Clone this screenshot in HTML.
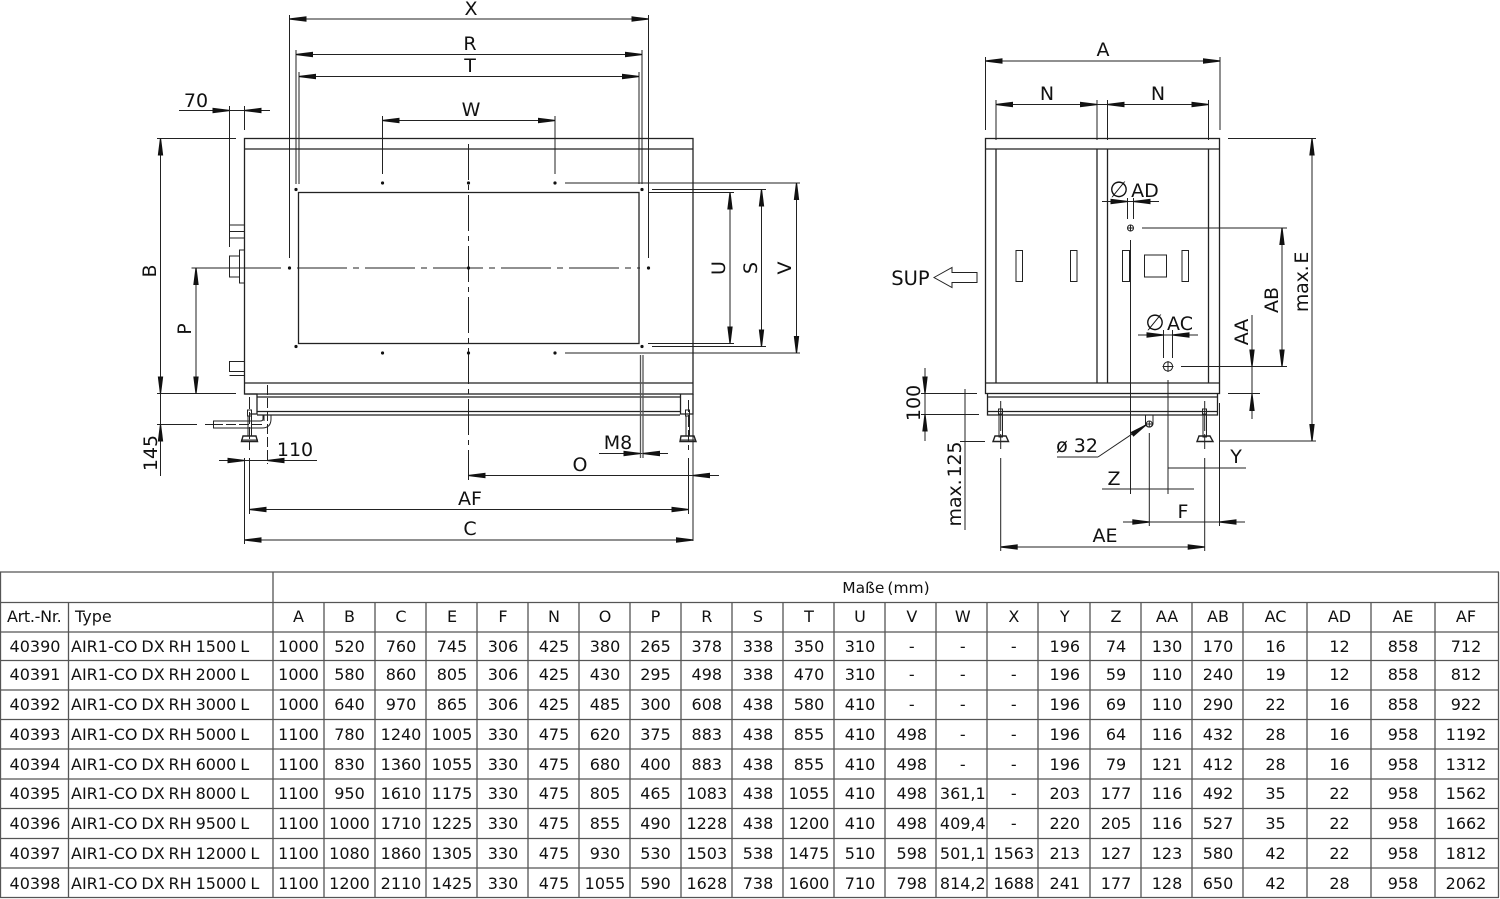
<!DOCTYPE html>
<html><head><meta charset="utf-8"><style>
html,body{margin:0;padding:0;background:#fff}
svg{display:block}
text{font-family:"DejaVu Sans",sans-serif;fill:#111}
.l{font-size:19px}
.t{font-size:16px;text-anchor:middle}
.d line,.d path.s,.d rect,.d circle{stroke:#222;stroke-width:1;fill:none}
.b line,.b rect,.b path{stroke:#222;stroke-width:1.3;fill:none}
.g line{stroke:#555;stroke-width:1.3}
</style></head><body>
<svg xmlns="http://www.w3.org/2000/svg" width="1500" height="899" viewBox="0 0 1500 899">
<defs><path id="a" d="M0 -.6L17 -2.7V2.7L0 .6Z" fill="#111"/></defs>

<!-- LEFT VIEW body -->
<g class="b">
<rect x="244.5" y="138.5" width="448.5" height="255.5"/>
<line x1="244.5" y1="149" x2="693" y2="149"/>
<line x1="244.5" y1="383" x2="693" y2="383"/>
<rect x="298.5" y="192.5" width="340.5" height="151"/>
<path d="M244.5 394H257V414H249"/>
<path d="M680.5 394V414H693V394"/>
<line x1="257" y1="397" x2="680" y2="397"/>
<line x1="257" y1="411.5" x2="680" y2="411.5"/>
<line x1="257" y1="415" x2="680" y2="415"/>
</g>
<g class="d">
<!-- left connections -->
<rect x="229.5" y="225" width="15" height="6.5"/><rect x="229.5" y="231.5" width="15" height="6.5"/>
<rect x="229.5" y="256" width="10" height="21"/><rect x="239.5" y="250" width="5" height="33"/>
<rect x="229.5" y="361.5" width="15" height="10"/><line x1="229.5" y1="375.5" x2="244" y2="375.5"/>
<path class="s" d="M263 415.5V419Q263 421 260 421H213.5V428H262Q271 428 271 419V415.5"/>
<line x1="264" y1="415" x2="264" y2="421"/>
<rect x="247.5" y="410" width="4" height="6"/><rect x="248" y="416" width="3.5" height="20"/>
<path class="s" d="M243 436H256L257.5 441.5H241.5Z" style="stroke-width:1.4"/><line x1="241" y1="440" x2="258" y2="440"/>
<line x1="249.5" y1="397" x2="249.5" y2="450" stroke-dasharray="12 3"/>
<rect x="685.5" y="410" width="4" height="6"/><rect x="686" y="416" width="3.5" height="20"/>
<path class="s" d="M681 436H694L696 441.5H680Z" style="stroke-width:1.4"/><line x1="680" y1="440" x2="696" y2="440"/>
<line x1="688.5" y1="400" x2="688.5" y2="450" stroke-dasharray="12 3"/>
<line x1="693" y1="402" x2="693" y2="541"/>
<line x1="244.5" y1="458" x2="244.5" y2="544"/>
<line x1="249.5" y1="458" x2="249.5" y2="514"/>
<line x1="688.5" y1="458" x2="688.5" y2="514"/>
<line x1="267.5" y1="385" x2="267.5" y2="464" stroke-dasharray="10 3"/>

<!-- X R T W -->
<line x1="289.5" y1="15" x2="289.5" y2="258"/><line x1="648.5" y1="15" x2="648.5" y2="258"/>
<line x1="289.5" y1="19" x2="648.5" y2="19"/>
<line x1="296" y1="50" x2="296" y2="184"/><line x1="642" y1="50" x2="642" y2="184"/>
<line x1="296" y1="54.5" x2="642" y2="54.5"/>
<line x1="299" y1="72" x2="299" y2="184"/><line x1="639" y1="72" x2="639" y2="184"/>
<line x1="299" y1="76.5" x2="639" y2="76.5"/>
<line x1="382.5" y1="116" x2="382.5" y2="174"/><line x1="555" y1="116" x2="555" y2="174"/>
<line x1="382.5" y1="120.5" x2="555" y2="120.5"/>

<!-- 70 -->
<line x1="179" y1="110.5" x2="270" y2="110.5"/>
<line x1="229.5" y1="106" x2="229.5" y2="247"/><line x1="244.5" y1="106" x2="244.5" y2="130"/>
<!-- B P 145 -->
<line x1="157" y1="138.5" x2="236" y2="138.5"/><line x1="157" y1="393.5" x2="236" y2="393.5"/>
<line x1="160.5" y1="138.5" x2="160.5" y2="476"/>
<line x1="196" y1="268" x2="196" y2="394"/>
<line x1="191.5" y1="268" x2="281" y2="268"/>
<line x1="157" y1="424.5" x2="197" y2="424.5"/><line x1="205" y1="424.5" x2="213" y2="424.5"/>
<line x1="213" y1="424.5" x2="262" y2="424.5" stroke-dasharray="10 3"/>
<!-- centre lines -->
<line x1="297" y1="268" x2="640" y2="268" stroke-dasharray="50 6 6 6"/>
<line x1="468.5" y1="144" x2="468.5" y2="480" stroke-dasharray="36 5 5 5"/>
<!-- 110 AF C O M8 -->
<line x1="219" y1="460.5" x2="317" y2="460.5"/>
<line x1="249.5" y1="509.5" x2="688.5" y2="509.5"/>
<line x1="244.5" y1="540" x2="693" y2="540"/>
<line x1="468.5" y1="475.5" x2="719" y2="475.5"/>
<line x1="599" y1="453.5" x2="668" y2="453.5"/>
<!-- U S V -->
<line x1="648" y1="192.5" x2="734" y2="192.5"/><line x1="648" y1="343.5" x2="734" y2="343.5"/>
<line x1="652" y1="189.5" x2="766" y2="189.5"/><line x1="652" y1="346.5" x2="766" y2="346.5"/>
<line x1="565" y1="183" x2="800" y2="183"/><line x1="565" y1="353" x2="800" y2="353"/>
<line x1="730" y1="192.5" x2="730" y2="343.5"/>
<line x1="761.5" y1="189.5" x2="761.5" y2="346.5"/>
<line x1="796.5" y1="183" x2="796.5" y2="353"/>
</g>
<g class="g"><line x1="640.5" y1="355" x2="640.5" y2="458"/><line x1="643" y1="355" x2="643" y2="458"/></g>
<!-- left view dots -->
<g fill="#111">
<circle cx="296" cy="189.5" r="1.6"/><circle cx="382.5" cy="183" r="1.6"/><circle cx="468.5" cy="183" r="1.6"/><circle cx="555" cy="183" r="1.6"/><circle cx="642" cy="189.5" r="1.6"/>
<circle cx="289.5" cy="268" r="1.6"/><circle cx="468.5" cy="268" r="1.6"/><circle cx="648.5" cy="268" r="1.6"/>
<circle cx="296" cy="346.5" r="1.6"/><circle cx="382.5" cy="353" r="1.6"/><circle cx="468.5" cy="353" r="1.6"/><circle cx="555" cy="353" r="1.6"/><circle cx="642" cy="346.5" r="1.6"/>
</g>
<!-- left arrows -->
<use href="#a" transform="translate(289.5 19)"/><use href="#a" transform="translate(648.5 19) rotate(180)"/>
<use href="#a" transform="translate(296 54.5)"/><use href="#a" transform="translate(642 54.5) rotate(180)"/>
<use href="#a" transform="translate(299 76.5)"/><use href="#a" transform="translate(639 76.5) rotate(180)"/>
<use href="#a" transform="translate(382.5 120.5)"/><use href="#a" transform="translate(555 120.5) rotate(180)"/>
<use href="#a" transform="translate(229.5 110.5) rotate(180)"/><use href="#a" transform="translate(244.5 110.5)"/>
<use href="#a" transform="translate(160.5 138.5) rotate(90)"/><use href="#a" transform="translate(160.5 393.5) rotate(-90)"/>
<use href="#a" transform="translate(196 268) rotate(90)"/><use href="#a" transform="translate(196 393.5) rotate(-90)"/>
<use href="#a" transform="translate(160.5 424.5) rotate(90)"/>
<use href="#a" transform="translate(244.5 460.5) rotate(180)"/><use href="#a" transform="translate(267.5 460.5)"/>
<use href="#a" transform="translate(249.5 509.5)"/><use href="#a" transform="translate(688.5 509.5) rotate(180)"/>
<use href="#a" transform="translate(244.5 540)"/><use href="#a" transform="translate(693 540) rotate(180)"/>
<use href="#a" transform="translate(468.5 475.5)"/><use href="#a" transform="translate(693 475.5)"/>
<use href="#a" transform="translate(640.5 453.5) rotate(180)"/><use href="#a" transform="translate(643 453.5)"/>
<use href="#a" transform="translate(730 192.5) rotate(90)"/><use href="#a" transform="translate(730 343.5) rotate(-90)"/>
<use href="#a" transform="translate(761.5 189.5) rotate(90)"/><use href="#a" transform="translate(761.5 346.5) rotate(-90)"/>
<use href="#a" transform="translate(796.5 183) rotate(90)"/><use href="#a" transform="translate(796.5 353) rotate(-90)"/>

<!-- left labels -->
<g class="l" text-anchor="middle">
<text x="471" y="15">X</text><text x="470" y="50">R</text><text x="470" y="72">T</text><text x="471" y="116">W</text>
<text x="196" y="107">70</text><text x="295" y="456">110</text><text x="618" y="449">M8</text><text x="580" y="471">O</text><text x="470" y="505">AF</text><text x="470" y="535">C</text>
<text transform="translate(156 271) rotate(-90)">B</text>
<text transform="translate(191 329) rotate(-90)">P</text>
<text transform="translate(157 453) rotate(-90)">145</text>
<text transform="translate(725 268) rotate(-90)">U</text>
<text transform="translate(757 268) rotate(-90)">S</text>
<text transform="translate(791 268) rotate(-90)">V</text>
</g>

<!-- RIGHT VIEW -->
<g class="b">
<rect x="985.5" y="138.5" width="234" height="255"/>
<line x1="985.5" y1="149" x2="1219.5" y2="149"/>
<line x1="985.5" y1="383" x2="1219.5" y2="383"/>
<line x1="996" y1="149" x2="996" y2="383"/><line x1="1097" y1="149" x2="1097" y2="383"/>
<line x1="1107.5" y1="149" x2="1107.5" y2="383"/><line x1="1208.5" y1="149" x2="1208.5" y2="383"/>
<path d="M987.5 394V415H1217.5V394"/>
<line x1="987.5" y1="397" x2="1217.5" y2="397"/>
<line x1="987.5" y1="411.5" x2="1217.5" y2="411.5"/>
</g>
<g class="d">
<rect x="1016" y="250.5" width="6.5" height="31"/><rect x="1070.5" y="250.5" width="6.5" height="31"/>
<rect x="1122.5" y="250.5" width="7" height="31"/><rect x="1182" y="250.5" width="6.5" height="31"/>
<rect x="1144.5" y="255" width="22" height="22"/>
<path class="s" d="M934 277.5L952 267.5V272.5H977V282.5H952V287.5Z"/>
<!-- ext / dims top -->
<line x1="985.5" y1="57" x2="985.5" y2="130"/><line x1="1220" y1="57" x2="1220" y2="130"/>
<line x1="985.5" y1="61" x2="1220" y2="61"/>
<line x1="996" y1="100" x2="996" y2="140"/><line x1="1097" y1="100" x2="1097" y2="140"/><line x1="1107.5" y1="100" x2="1107.5" y2="140"/><line x1="1208.5" y1="100" x2="1208.5" y2="140"/>
<line x1="996" y1="104.5" x2="1208.5" y2="104.5"/>
<!-- AD -->
<line x1="1102" y1="201.5" x2="1159" y2="201.5"/>
<line x1="1127.5" y1="198" x2="1127.5" y2="219"/><line x1="1133.5" y1="198" x2="1133.5" y2="219"/>
<circle cx="1130.5" cy="228" r="3"/><line x1="1127" y1="228" x2="1134" y2="228"/><line x1="1130.5" y1="224.5" x2="1130.5" y2="231.5"/>
<line x1="1142" y1="228" x2="1287" y2="228"/>
<line x1="1130.5" y1="240" x2="1130.5" y2="494"/>
<!-- AC -->
<line x1="1138" y1="335" x2="1198" y2="335"/>
<line x1="1163.5" y1="330" x2="1163.5" y2="358"/><line x1="1172.5" y1="330" x2="1172.5" y2="358"/>
<circle cx="1168" cy="366.5" r="4.6"/><line x1="1162.5" y1="366.5" x2="1173.5" y2="366.5"/><line x1="1168" y1="361" x2="1168" y2="372"/>
<line x1="1181" y1="366.5" x2="1287" y2="366.5"/>
<line x1="1168" y1="380" x2="1168" y2="494"/>
<!-- AB AA E -->
<line x1="1282" y1="228" x2="1282" y2="366.5"/>
<line x1="1252" y1="315" x2="1252" y2="419"/>
<line x1="1228" y1="393.5" x2="1260" y2="393.5"/>
<line x1="1228" y1="138.5" x2="1316" y2="138.5"/>
<line x1="1312" y1="138.5" x2="1312" y2="441"/>
<line x1="1220" y1="441" x2="1316" y2="441"/>
<!-- 100 max125 -->
<line x1="925" y1="368" x2="925" y2="441"/>
<line x1="921" y1="393.5" x2="977" y2="393.5"/><line x1="921" y1="414.5" x2="979" y2="414.5"/>
<line x1="965" y1="389" x2="965" y2="530"/>
<line x1="960" y1="441.5" x2="985" y2="441.5"/>
<!-- feet -->
<rect x="998.5" y="409" width="4" height="5"/><rect x="999" y="414" width="3.5" height="23"/>
<path class="s" d="M995 436H1006L1008.5 441.5H993Z" style="stroke-width:1.4"/>
<line x1="1000.7" y1="401" x2="1000.7" y2="449" stroke-dasharray="30 3"/>
<line x1="1000.7" y1="458" x2="1000.7" y2="551"/>
<rect x="1202.5" y="409" width="4" height="5"/><rect x="1203" y="414" width="3.5" height="23"/>
<path class="s" d="M1199 436H1210L1213 441.5H1197Z" style="stroke-width:1.4"/>
<line x1="1204.7" y1="401" x2="1204.7" y2="449" stroke-dasharray="30 3"/>
<line x1="1204.7" y1="458" x2="1204.7" y2="551"/>
<line x1="1219.5" y1="403" x2="1219.5" y2="526"/>
<!-- pipe -->
<path class="s" d="M1145.5 415V424A3.8 3.8 0 0 0 1153 424V415"/>
<circle cx="1149.3" cy="424" r="3"/><line x1="1146" y1="424" x2="1152.5" y2="424"/><line x1="1149.3" y1="421" x2="1149.3" y2="427"/>
<line x1="1149.3" y1="433" x2="1149.3" y2="526"/>
<line x1="1057" y1="457" x2="1098" y2="457"/><line x1="1098" y1="457" x2="1147" y2="424"/>
<!-- Z Y F AE -->
<line x1="1102" y1="489" x2="1194" y2="489"/>
<line x1="1168" y1="468" x2="1246" y2="468"/>
<line x1="1123" y1="522" x2="1245" y2="522"/>
<line x1="1000.7" y1="547" x2="1204.7" y2="547"/>
</g>
<!-- right arrows -->
<use href="#a" transform="translate(985.5 61)"/><use href="#a" transform="translate(1220 61) rotate(180)"/>
<use href="#a" transform="translate(996 104.5)"/><use href="#a" transform="translate(1097 104.5) rotate(180)"/>
<use href="#a" transform="translate(1107.5 104.5)"/><use href="#a" transform="translate(1208.5 104.5) rotate(180)"/>
<use href="#a" transform="translate(1127.5 201.5) rotate(180)"/><use href="#a" transform="translate(1133.5 201.5)"/>
<use href="#a" transform="translate(1163.5 335) rotate(180)"/><use href="#a" transform="translate(1172.5 335)"/>
<use href="#a" transform="translate(1282 228) rotate(90)"/><use href="#a" transform="translate(1282 366.5) rotate(-90)"/>
<use href="#a" transform="translate(1252 366.5) rotate(-90)"/><use href="#a" transform="translate(1252 394) rotate(90)"/>
<use href="#a" transform="translate(1312 138.5) rotate(90)"/><use href="#a" transform="translate(1312 441) rotate(-90)"/>
<use href="#a" transform="translate(925 393.5) rotate(-90)"/><use href="#a" transform="translate(925 414.5) rotate(90)"/>
<use href="#a" transform="translate(1149.3 522) rotate(180)"/><use href="#a" transform="translate(1219.5 522)"/>
<use href="#a" transform="translate(1000.7 547)"/><use href="#a" transform="translate(1204.7 547) rotate(180)"/>
<use href="#a" transform="translate(1146 425) rotate(146)"/>
<!-- right labels -->
<g class="l" text-anchor="middle">
<text x="1103" y="56">A</text><text x="1047" y="100">N</text><text x="1158" y="100">N</text>
<text x="910.5" y="285" style="font-size:19.5px">SUP</text>
<text x="1119" y="197" style="font-size:22px">∅</text><text x="1145" y="197">AD</text>
<text x="1155" y="330" style="font-size:22px">∅</text><text x="1180" y="330">AC</text>
<text x="1077" y="452">ø 32</text>
<text x="1114" y="485">Z</text><text x="1236" y="463">Y</text><text x="1183" y="518">F</text><text x="1105" y="542">AE</text>
<text transform="translate(1278 300) rotate(-90)">AB</text>
<text transform="translate(1248 332) rotate(-90)">AA</text>
<text transform="translate(1308 282) rotate(-90)" style="word-spacing:-4px;letter-spacing:-.2px">max. E</text>
<text transform="translate(920 403) rotate(-90)">100</text>
<text transform="translate(961 484) rotate(-90)" style="word-spacing:-4px;letter-spacing:-.1px">max. 125</text>
</g>

<!-- TABLE -->
<g class="g">
<line x1="0" y1="572" x2="1499" y2="572"/><line x1="0" y1="602.5" x2="1499" y2="602.5"/><line x1="0" y1="632" x2="1499" y2="632"/>
<line x1="0" y1="660.5" x2="1499" y2="660.5"/><line x1="0" y1="690" x2="1499" y2="690"/><line x1="0" y1="719.5" x2="1499" y2="719.5"/>
<line x1="0" y1="749" x2="1499" y2="749"/><line x1="0" y1="779" x2="1499" y2="779"/><line x1="0" y1="808.5" x2="1499" y2="808.5"/>
<line x1="0" y1="838.5" x2="1499" y2="838.5"/><line x1="0" y1="868" x2="1499" y2="868"/><line x1="0" y1="897.5" x2="1499" y2="897.5"/>
<line x1="0.5" y1="572" x2="0.5" y2="897.5"/><line x1="273" y1="572" x2="273" y2="897.5"/><line x1="1498.5" y1="572" x2="1498.5" y2="897.5"/>
<line x1="68.5" y1="602.5" x2="68.5" y2="897.5"/>
<line x1="324" y1="602.5" x2="324" y2="897.5"/><line x1="375" y1="602.5" x2="375" y2="897.5"/><line x1="426" y1="602.5" x2="426" y2="897.5"/><line x1="477" y1="602.5" x2="477" y2="897.5"/>
<line x1="528" y1="602.5" x2="528" y2="897.5"/><line x1="579" y1="602.5" x2="579" y2="897.5"/><line x1="630" y1="602.5" x2="630" y2="897.5"/><line x1="681" y1="602.5" x2="681" y2="897.5"/>
<line x1="732" y1="602.5" x2="732" y2="897.5"/><line x1="783" y1="602.5" x2="783" y2="897.5"/><line x1="834" y1="602.5" x2="834" y2="897.5"/><line x1="885" y1="602.5" x2="885" y2="897.5"/>
<line x1="936" y1="602.5" x2="936" y2="897.5"/><line x1="987" y1="602.5" x2="987" y2="897.5"/><line x1="1038" y1="602.5" x2="1038" y2="897.5"/><line x1="1090" y1="602.5" x2="1090" y2="897.5"/>
<line x1="1141" y1="602.5" x2="1141" y2="897.5"/><line x1="1192" y1="602.5" x2="1192" y2="897.5"/><line x1="1243" y1="602.5" x2="1243" y2="897.5"/><line x1="1307" y1="602.5" x2="1307" y2="897.5"/>
<line x1="1371" y1="602.5" x2="1371" y2="897.5"/><line x1="1435" y1="602.5" x2="1435" y2="897.5"/>
</g>
<text x="886" y="593" text-anchor="middle" style="font-size:15.5px;word-spacing:-2px">Maße (mm)</text>
<text x="7" y="622" style="font-size:16px;letter-spacing:-.3px">Art.-Nr.</text>
<text x="75" y="622" style="font-size:16px">Type</text>

<text class="t" y="622"><tspan x="298.5">A</tspan><tspan x="349.5">B</tspan><tspan x="401">C</tspan><tspan x="452">E</tspan><tspan x="503">F</tspan><tspan x="554">N</tspan><tspan x="605">O</tspan><tspan x="655.5">P</tspan><tspan x="706.8">R</tspan><tspan x="758">S</tspan><tspan x="809">T</tspan><tspan x="860">U</tspan><tspan x="911.8">V</tspan><tspan x="962.8">W</tspan><tspan x="1013.8">X</tspan><tspan x="1064.8">Y</tspan><tspan x="1116">Z</tspan><tspan x="1167">AA</tspan><tspan x="1218">AB</tspan><tspan x="1275.5">AC</tspan><tspan x="1339.5">AD</tspan><tspan x="1403">AE</tspan><tspan x="1466">AF</tspan></text>

<g style="font-size:16px;word-spacing:-1.2px">
<text x="71" y="652">AIR1-CO DX RH 1500 L</text>
<text x="71" y="680">AIR1-CO DX RH 2000 L</text>
<text x="71" y="710">AIR1-CO DX RH 3000 L</text>
<text x="71" y="740">AIR1-CO DX RH 5000 L</text>
<text x="71" y="770">AIR1-CO DX RH 6000 L</text>
<text x="71" y="799">AIR1-CO DX RH 8000 L</text>
<text x="71" y="829">AIR1-CO DX RH 9500 L</text>
<text x="71" y="859">AIR1-CO DX RH 12000 L</text>
<text x="71" y="889">AIR1-CO DX RH 15000 L</text>
</g>

<text class="t" y="652"><tspan x="35">40390</tspan><tspan x="298.5">1000</tspan><tspan x="349.5">520</tspan><tspan x="401">760</tspan><tspan x="452">745</tspan><tspan x="503">306</tspan><tspan x="554">425</tspan><tspan x="605">380</tspan><tspan x="655.5">265</tspan><tspan x="706.8">378</tspan><tspan x="758">338</tspan><tspan x="809">350</tspan><tspan x="860">310</tspan><tspan x="911.8">-</tspan><tspan x="962.8">-</tspan><tspan x="1013.8">-</tspan><tspan x="1064.8">196</tspan><tspan x="1116">74</tspan><tspan x="1167">130</tspan><tspan x="1218">170</tspan><tspan x="1275.5">16</tspan><tspan x="1339.5">12</tspan><tspan x="1403">858</tspan><tspan x="1466">712</tspan></text>
<text class="t" y="680"><tspan x="35">40391</tspan><tspan x="298.5">1000</tspan><tspan x="349.5">580</tspan><tspan x="401">860</tspan><tspan x="452">805</tspan><tspan x="503">306</tspan><tspan x="554">425</tspan><tspan x="605">430</tspan><tspan x="655.5">295</tspan><tspan x="706.8">498</tspan><tspan x="758">338</tspan><tspan x="809">470</tspan><tspan x="860">310</tspan><tspan x="911.8">-</tspan><tspan x="962.8">-</tspan><tspan x="1013.8">-</tspan><tspan x="1064.8">196</tspan><tspan x="1116">59</tspan><tspan x="1167">110</tspan><tspan x="1218">240</tspan><tspan x="1275.5">19</tspan><tspan x="1339.5">12</tspan><tspan x="1403">858</tspan><tspan x="1466">812</tspan></text>
<text class="t" y="710"><tspan x="35">40392</tspan><tspan x="298.5">1000</tspan><tspan x="349.5">640</tspan><tspan x="401">970</tspan><tspan x="452">865</tspan><tspan x="503">306</tspan><tspan x="554">425</tspan><tspan x="605">485</tspan><tspan x="655.5">300</tspan><tspan x="706.8">608</tspan><tspan x="758">438</tspan><tspan x="809">580</tspan><tspan x="860">410</tspan><tspan x="911.8">-</tspan><tspan x="962.8">-</tspan><tspan x="1013.8">-</tspan><tspan x="1064.8">196</tspan><tspan x="1116">69</tspan><tspan x="1167">110</tspan><tspan x="1218">290</tspan><tspan x="1275.5">22</tspan><tspan x="1339.5">16</tspan><tspan x="1403">858</tspan><tspan x="1466">922</tspan></text>
<text class="t" y="740"><tspan x="35">40393</tspan><tspan x="298.5">1100</tspan><tspan x="349.5">780</tspan><tspan x="401">1240</tspan><tspan x="452">1005</tspan><tspan x="503">330</tspan><tspan x="554">475</tspan><tspan x="605">620</tspan><tspan x="655.5">375</tspan><tspan x="706.8">883</tspan><tspan x="758">438</tspan><tspan x="809">855</tspan><tspan x="860">410</tspan><tspan x="911.8">498</tspan><tspan x="962.8">-</tspan><tspan x="1013.8">-</tspan><tspan x="1064.8">196</tspan><tspan x="1116">64</tspan><tspan x="1167">116</tspan><tspan x="1218">432</tspan><tspan x="1275.5">28</tspan><tspan x="1339.5">16</tspan><tspan x="1403">958</tspan><tspan x="1466">1192</tspan></text>
<text class="t" y="770"><tspan x="35">40394</tspan><tspan x="298.5">1100</tspan><tspan x="349.5">830</tspan><tspan x="401">1360</tspan><tspan x="452">1055</tspan><tspan x="503">330</tspan><tspan x="554">475</tspan><tspan x="605">680</tspan><tspan x="655.5">400</tspan><tspan x="706.8">883</tspan><tspan x="758">438</tspan><tspan x="809">855</tspan><tspan x="860">410</tspan><tspan x="911.8">498</tspan><tspan x="962.8">-</tspan><tspan x="1013.8">-</tspan><tspan x="1064.8">196</tspan><tspan x="1116">79</tspan><tspan x="1167">121</tspan><tspan x="1218">412</tspan><tspan x="1275.5">28</tspan><tspan x="1339.5">16</tspan><tspan x="1403">958</tspan><tspan x="1466">1312</tspan></text>
<text class="t" y="799"><tspan x="35">40395</tspan><tspan x="298.5">1100</tspan><tspan x="349.5">950</tspan><tspan x="401">1610</tspan><tspan x="452">1175</tspan><tspan x="503">330</tspan><tspan x="554">475</tspan><tspan x="605">805</tspan><tspan x="655.5">465</tspan><tspan x="706.8">1083</tspan><tspan x="758">438</tspan><tspan x="809">1055</tspan><tspan x="860">410</tspan><tspan x="911.8">498</tspan><tspan x="962.8">361,1</tspan><tspan x="1013.8">-</tspan><tspan x="1064.8">203</tspan><tspan x="1116">177</tspan><tspan x="1167">116</tspan><tspan x="1218">492</tspan><tspan x="1275.5">35</tspan><tspan x="1339.5">22</tspan><tspan x="1403">958</tspan><tspan x="1466">1562</tspan></text>
<text class="t" y="829"><tspan x="35">40396</tspan><tspan x="298.5">1100</tspan><tspan x="349.5">1000</tspan><tspan x="401">1710</tspan><tspan x="452">1225</tspan><tspan x="503">330</tspan><tspan x="554">475</tspan><tspan x="605">855</tspan><tspan x="655.5">490</tspan><tspan x="706.8">1228</tspan><tspan x="758">438</tspan><tspan x="809">1200</tspan><tspan x="860">410</tspan><tspan x="911.8">498</tspan><tspan x="962.8">409,4</tspan><tspan x="1013.8">-</tspan><tspan x="1064.8">220</tspan><tspan x="1116">205</tspan><tspan x="1167">116</tspan><tspan x="1218">527</tspan><tspan x="1275.5">35</tspan><tspan x="1339.5">22</tspan><tspan x="1403">958</tspan><tspan x="1466">1662</tspan></text>
<text class="t" y="859"><tspan x="35">40397</tspan><tspan x="298.5">1100</tspan><tspan x="349.5">1080</tspan><tspan x="401">1860</tspan><tspan x="452">1305</tspan><tspan x="503">330</tspan><tspan x="554">475</tspan><tspan x="605">930</tspan><tspan x="655.5">530</tspan><tspan x="706.8">1503</tspan><tspan x="758">538</tspan><tspan x="809">1475</tspan><tspan x="860">510</tspan><tspan x="911.8">598</tspan><tspan x="962.8">501,1</tspan><tspan x="1013.8">1563</tspan><tspan x="1064.8">213</tspan><tspan x="1116">127</tspan><tspan x="1167">123</tspan><tspan x="1218">580</tspan><tspan x="1275.5">42</tspan><tspan x="1339.5">22</tspan><tspan x="1403">958</tspan><tspan x="1466">1812</tspan></text>
<text class="t" y="889"><tspan x="35">40398</tspan><tspan x="298.5">1100</tspan><tspan x="349.5">1200</tspan><tspan x="401">2110</tspan><tspan x="452">1425</tspan><tspan x="503">330</tspan><tspan x="554">475</tspan><tspan x="605">1055</tspan><tspan x="655.5">590</tspan><tspan x="706.8">1628</tspan><tspan x="758">738</tspan><tspan x="809">1600</tspan><tspan x="860">710</tspan><tspan x="911.8">798</tspan><tspan x="962.8">814,2</tspan><tspan x="1013.8">1688</tspan><tspan x="1064.8">241</tspan><tspan x="1116">177</tspan><tspan x="1167">128</tspan><tspan x="1218">650</tspan><tspan x="1275.5">42</tspan><tspan x="1339.5">28</tspan><tspan x="1403">958</tspan><tspan x="1466">2062</tspan></text>
</svg>
</body></html>
